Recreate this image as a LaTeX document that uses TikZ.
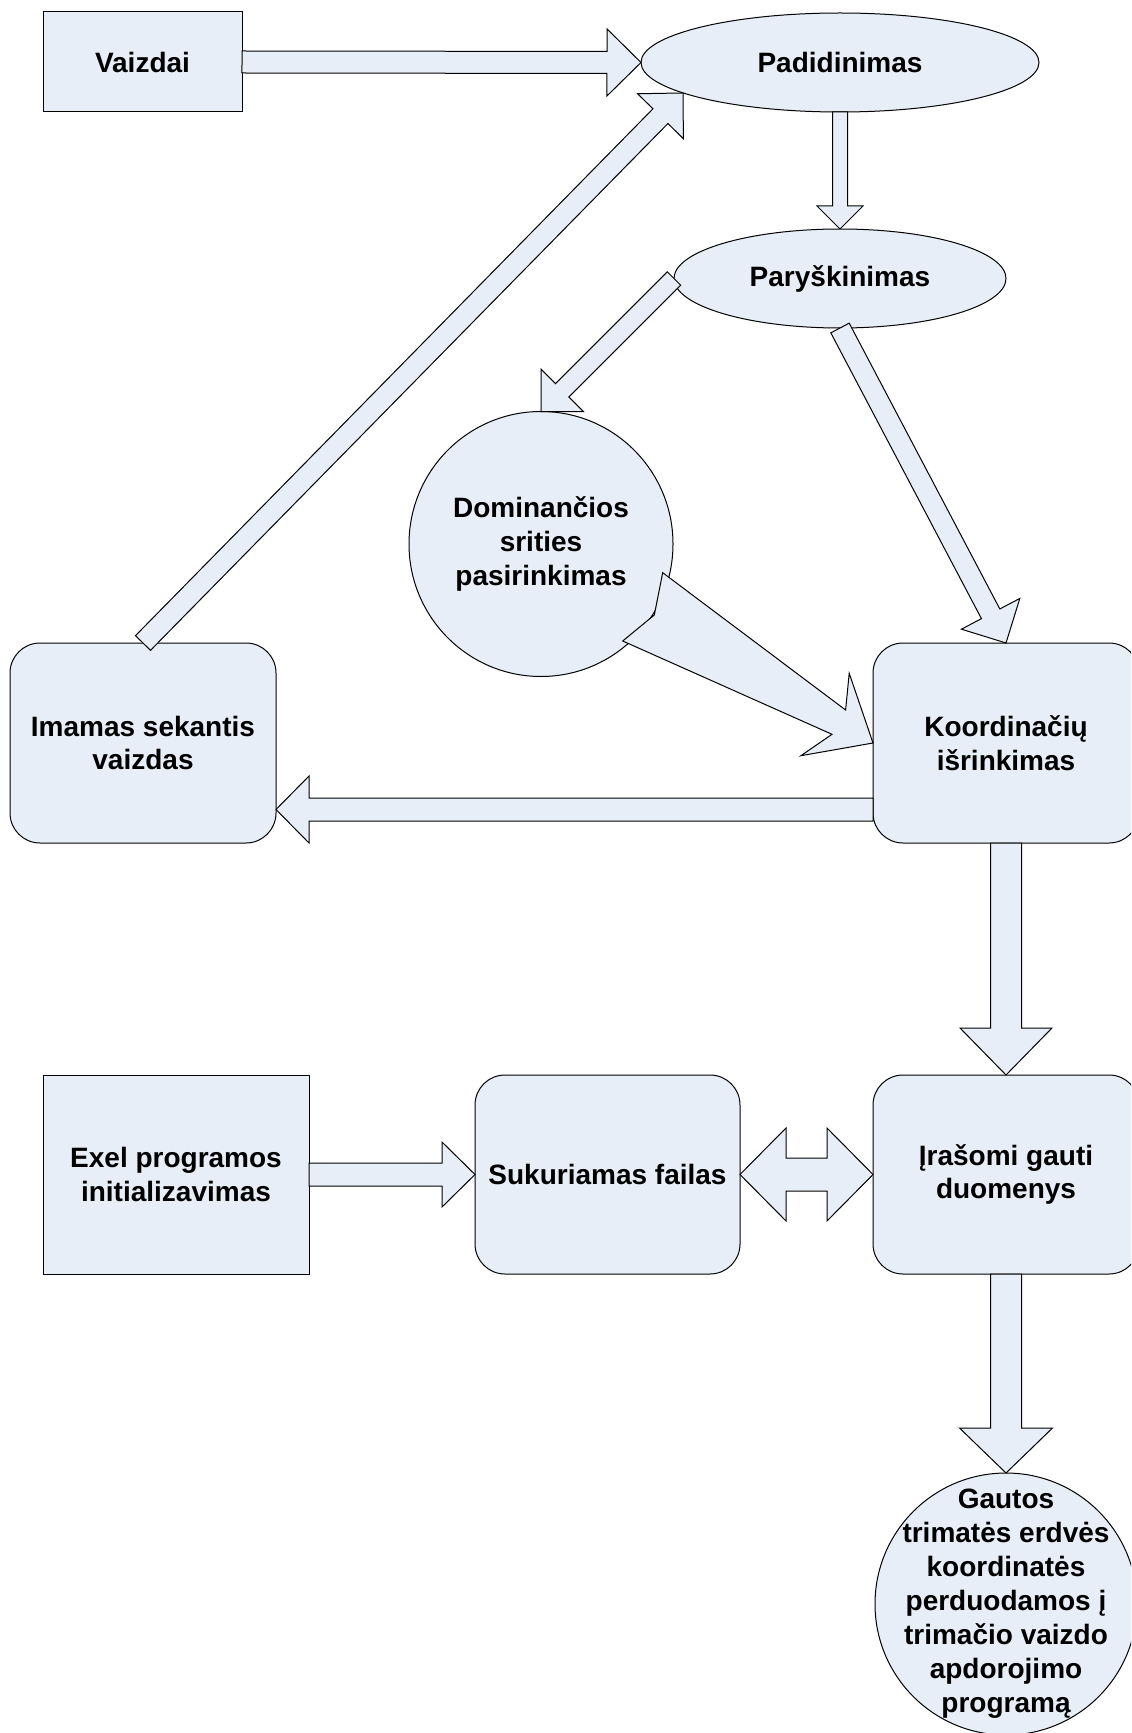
\documentclass[tikz,border=0pt]{standalone}
\usepackage{fontspec}
\setmainfont{Liberation Sans}
\usetikzlibrary{calc,shapes.geometric}
\definecolor{boxfill}{RGB}{232,238,247}
\tikzset{
  base/.style={draw=black, fill=boxfill, line width=0.5pt, inner sep=0pt, outer sep=0pt,
    font=\bfseries\fontsize{14pt}{16.8pt}\selectfont, align=center},
  sqbox/.style={base, rectangle},
  rndbox/.style={base, rectangle, rounded corners=15pt},
  ovalbox/.style={base, ellipse},
  arrowstyle/.style={draw=black, fill=boxfill, line width=0.5pt, line join=miter},
}
% block arrow: #1 tail, #2 tip, #3 shaft half width, #4 head half width, #5 head length
\newcommand{\blockarrow}[5]{%
  \coordinate (bn) at ($(#2)!#5!(#1)$);
  \draw[arrowstyle] ($(#1)!#3!90:(#2)$) -- ($(bn)!#3!-90:(#1)$) -- ($(bn)!#4!-90:(#1)$) -- (#2)
    -- ($(bn)!#4!90:(#1)$) -- ($(bn)!#3!90:(#1)$) -- ($(#1)!#3!-90:(#2)$) -- cycle;
}
% double block arrow: #1 tip, #2 tip, #3 shaft half, #4 head half, #5 head length
\newcommand{\dblblockarrow}[5]{%
  \coordinate (dn1) at ($(#1)!#5!(#2)$);
  \coordinate (dn2) at ($(#2)!#5!(#1)$);
  \draw[arrowstyle] (#1) -- ($(dn1)!#4!90:(#2)$) -- ($(dn1)!#3!90:(#2)$) -- ($(dn2)!#3!-90:(#1)$)
    -- ($(dn2)!#4!-90:(#1)$) -- (#2) -- ($(dn2)!#4!90:(#1)$) -- ($(dn2)!#3!90:(#1)$)
    -- ($(dn1)!#3!-90:(#2)$) -- ($(dn1)!#4!-90:(#2)$) -- cycle;
}
\begin{document}
\begin{tikzpicture}[x=0.5pt, y=-0.5pt]
\useasboundingbox (0,0) rectangle (1131,1733);
\clip (0,0) rectangle (1131,1733);

% nodes
\node[sqbox, minimum width=99.5pt, minimum height=50pt] (vaizdai) at (142.5,62) {Vaizdai};
\node[ovalbox, minimum width=199pt, minimum height=49.5pt] (padid) at (840,62.5) {Padidinimas};
\node[ovalbox, minimum width=166pt, minimum height=49.5pt] (parys) at (840,278.5) {Paryškinimas};
\node[ovalbox, minimum width=132pt, minimum height=132.5pt] (domin) at (541,544) {Dominančios\\srities\\pasirinkimas};
\node[rndbox, minimum width=133pt, minimum height=100pt] (imamas) at (143,743) {Imamas sekantis\\vaizdas};
\node[rndbox, minimum width=133pt, minimum height=100pt] (koord) at (1006,743) {Koordinačių\\išrinkimas};
\node[sqbox, minimum width=133pt, minimum height=99.5pt] (exel) at (176,1174.5) {Exel programos\\initializavimas};
\node[rndbox, minimum width=132.5pt, minimum height=99.5pt] (sukur) at (607.5,1174.5) {Sukuriamas failas};
\node[rndbox, minimum width=133pt, minimum height=99.5pt] (irasomi) at (1006,1174.5) {Įrašomi gauti\\duomenys};
\node[ovalbox, inner sep=-20pt, minimum width=131pt, minimum height=131pt,
  font=\bfseries\fontsize{14pt}{17pt}\selectfont] (gautos) at (1006,1604) {Gautos\\trimatės erdvės\\koordinatės\\perduodamos į\\trimačio vaizdo\\apdorojimo\\programą};

% connectors
\blockarrow{vaizdai.east}{padid.west}{5.5pt}{16.75pt}{17pt}
\blockarrow{padid.south}{parys.north}{3.75pt}{11.5pt}{11.5pt}
\blockarrow{parys.west}{domin.north}{4.75pt}{15pt}{15pt}
\blockarrow{parys.south}{koord.north}{5.2pt}{16.5pt}{16.5pt}
\blockarrow{imamas.north}{padid.191.2}{5.25pt}{16pt}{16.25pt}

\coordinate (koordL) at ([yshift=-33.25pt]koord.west);
\coordinate (imamasR) at ([yshift=-33.25pt]imamas.east);
\blockarrow{koordL}{imamasR}{5.75pt}{16.75pt}{16.5pt}

% tapered arrow from Dominancios to Koordinaciu
\draw[arrowstyle] ([shift={(121.7,28.7)}]domin.center) -- ([shift={(-27.4,-33)}]koord.west)
  -- ([shift={(-23.8,-69.7)}]koord.west) -- (koord.west)
  -- ([shift={(-72.1,12.7)}]koord.west) -- ([shift={(-41,-8.7)}]koord.west)
  -- ([shift={(81.7,97)}]domin.center) -- ([shift={(113.3,71)}]domin.center) -- cycle;

\blockarrow{koord.south}{irasomi.north}{7.75pt}{23pt}{23.5pt}
\blockarrow{exel.east}{sukur.west}{5.75pt}{16.25pt}{16.5pt}
\dblblockarrow{sukur.east}{irasomi.west}{8.25pt}{23.25pt}{23pt}
\blockarrow{irasomi.south}{gautos.north}{7.75pt}{23.25pt}{22.5pt}
\end{tikzpicture}
\end{document}
